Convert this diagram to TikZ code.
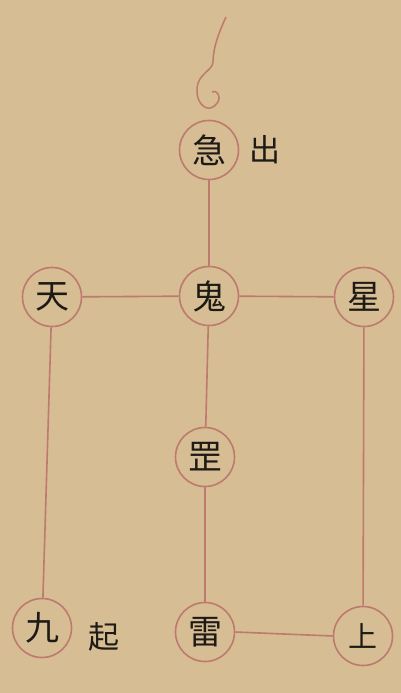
\documentclass[tikz,border=0pt]{standalone}
\usepackage{fontspec}
\newfontfamily\cjk{Noto Sans CJK SC}
\definecolor{paper}{RGB}{214,189,147}
\definecolor{ink}{RGB}{190,122,110}
\definecolor{txt}{RGB}{30,26,22}
\begin{document}
\begin{tikzpicture}[x=1pt,y=-1pt,
  stn/.style={circle,draw=ink,line width=1.6pt,minimum size=59pt,inner sep=0pt,
    font=\cjk\fontsize{34}{34}\selectfont,text=txt},
  lbl/.style={font=\cjk\fontsize{31}{31}\selectfont,text=txt,inner sep=0pt},
  link/.style={draw=ink,line width=1.6pt}]
\fill[paper] (0,0) rectangle (401,693);
\useasboundingbox (0,0) rectangle (401,693);
\node[stn] (ji) at (209,150) {急};
\node[stn] (gui) at (209,296) {鬼};
\node[stn] (tian) at (52,297) {天};
\node[stn] (xing) at (364,297) {星};
\node[stn] (gang) at (205,457) {罡};
\node[stn] (jiu) at (42,628) {九};
\node[stn] (lei) at (205,632) {雷};
\node[stn,font=\cjk\fontsize{29}{29}\selectfont] (shang) at (363,636) {上};
\node[lbl] (chu) at (265,150) {出};
\node[lbl] (qi) at (104,637) {起};
\coordinate (tail) at (226,17);
\draw[link] (ji) -- (gui);
\draw[link] (tian) -- (gui);
\draw[link] (gui) -- (xing);
\draw[link] (gui) -- (gang);
\draw[link] (gang) -- (lei);
\draw[link] (tian) -- (jiu);
\draw[link] (xing) -- (shang);
\draw[link] (lei.east) -- (shang.west);
\draw[link,line width=1.5pt] (tail) .. controls (219,32) and (213,48) .. (213,62)
  .. controls (213,70) and (198,74) .. (197,88)
  .. controls (196,102) and (204,109) .. (210,108)
  .. controls (218,106) and (221,98) .. (218,94)
  .. controls (216,91) and (213,91) .. (212,92);
\end{tikzpicture}
\end{document}
